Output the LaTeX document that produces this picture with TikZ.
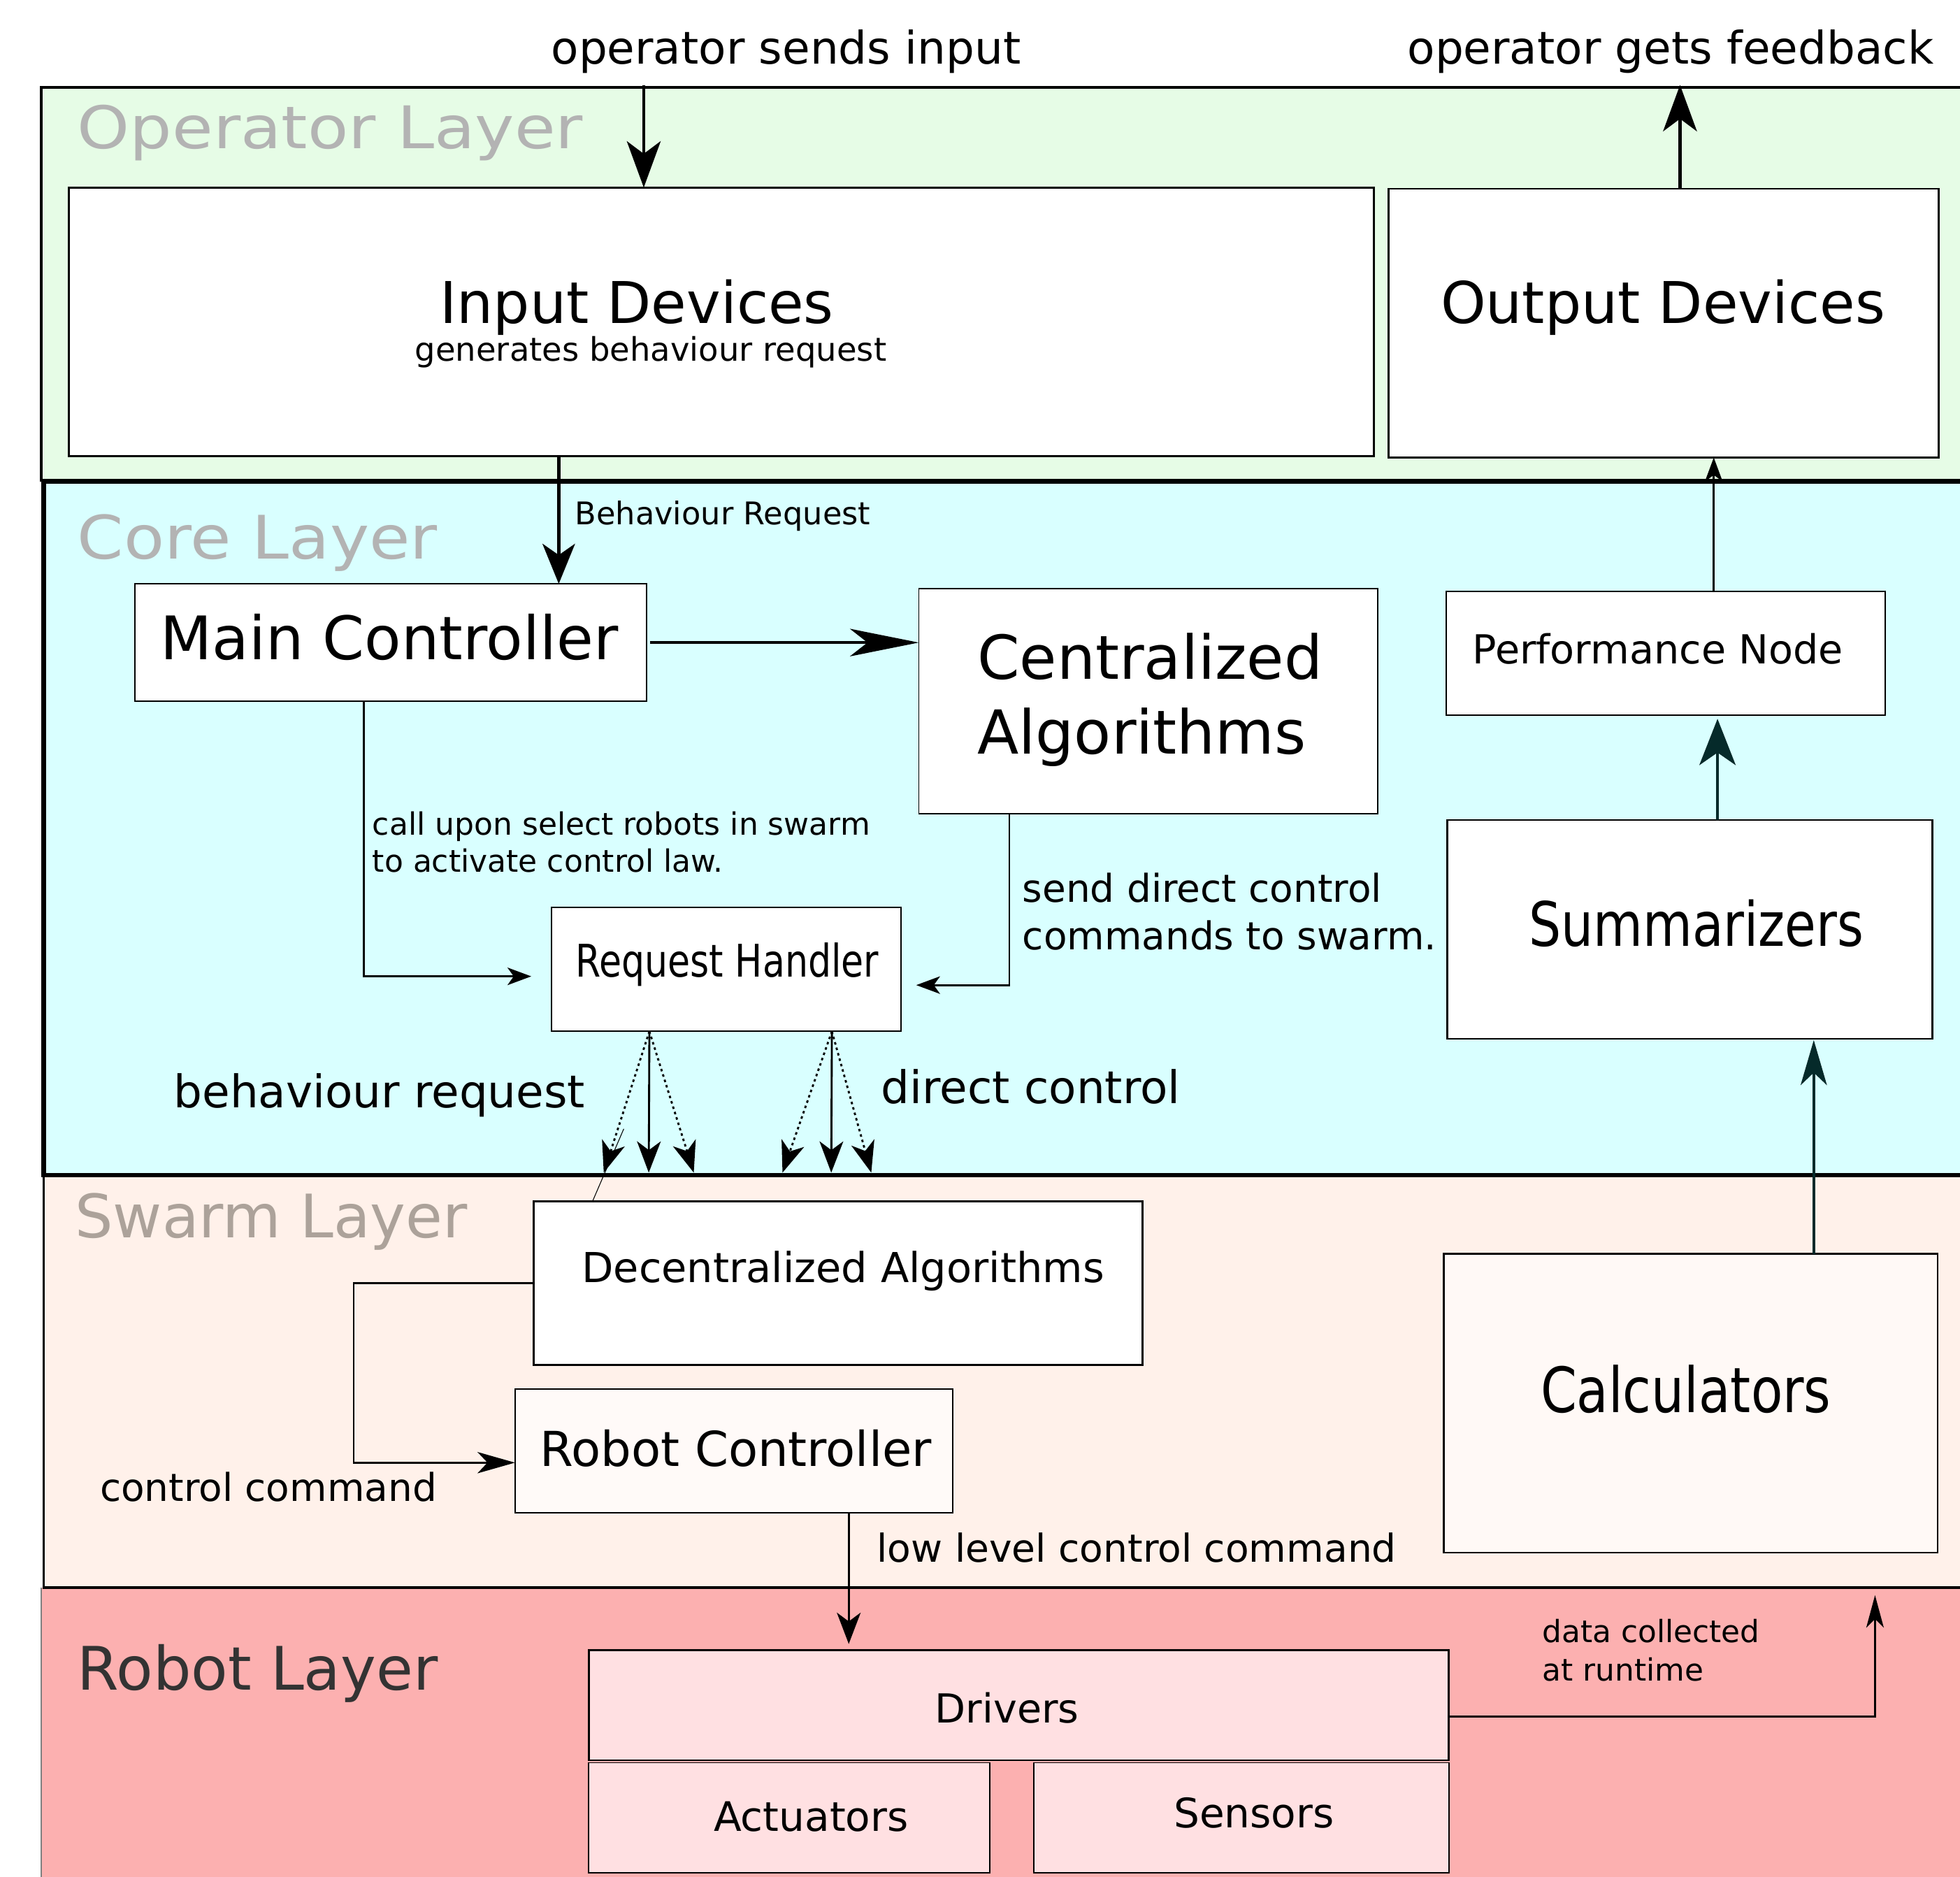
\documentclass[tikz,border=0pt]{standalone}
\usepackage{fontspec}
\setmainfont{DejaVu Sans}
\usepackage{graphicx}
\usetikzlibrary{arrows.meta,calc}
\definecolor{opfill}{HTML}{E6FCE6}
\definecolor{corefill}{HTML}{D9FFFF}
\definecolor{swfill}{HTML}{FFF1EA}
\definecolor{robfill}{HTML}{FCB0B0}
\definecolor{drvfill}{HTML}{FFE0E2}
\definecolor{rcfill}{HTML}{FFFAF8}
\definecolor{calcfill}{HTML}{FFF9F6}
\definecolor{labgray}{HTML}{B3B3B3}
\definecolor{swgray}{HTML}{ACA29A}
\definecolor{robgray}{HTML}{333333}
\definecolor{darkteal}{HTML}{052A2A}
\newcommand\fsz[2]{\fontsize{#1}{#2}\selectfont}
\begin{document}
\begin{tikzpicture}[x=1pt,y=-1pt,
  box/.style={draw=black, fill=white, line width=1.1pt, inner sep=0pt, outer sep=0pt},
  thickbox/.style={box, line width=1.8pt},
  txt/.style={inner sep=0pt, outer sep=0pt, anchor=base west, align=left, text=black},
  conn/.style={draw=black, line width=1.5pt},
  tipbig/.style={-{Stealth[length=37pt,width=27pt,inset=10pt]}},
  tipbr/.style={-{Stealth[length=32pt,width=26pt,inset=9pt]}},
  tiplong/.style={-{Stealth[length=55pt,width=22pt,inset=14pt]}},
  tipfan/.style={-{Stealth[length=25pt,width=19pt,inset=7pt]}},
  tipsmall/.style={-{Stealth[length=19pt,width=14pt,inset=5pt]}},
  tipcc/.style={-{Stealth[length=30pt,width=17pt,inset=8pt]}},
  fandot/.style={conn, line width=1.6pt, dash pattern=on 2pt off 2.5pt, tipfan},
  fansolid/.style={conn, line width=1.6pt, tipfan},
]
\useasboundingbox (0,0) rectangle (1568,1501);
\clip (0,0) rectangle (1568,1501);

% ---------- layers ----------
\filldraw[fill=opfill, draw=black, line width=2.2pt] (33,70) rectangle (1590,384);
\fill[robfill] (33,1270) rectangle (1590,1520);
\draw[gray, line width=1pt] (33,1270) -- (33,1520);
\filldraw[fill=swfill, draw=black, line width=2pt] (35,940) rectangle (1590,1270);
\filldraw[fill=corefill, draw=black, line width=3.5pt] (35,385) rectangle (1590,940);

\node[txt, text=labgray] (lop) at (62,119) {\fsz{47}{56}\scalebox{1.135}[1]{Operator Layer}};
\node[txt, text=labgray] (lcore) at (62,447) {\fsz{48}{56}\scalebox{1.107}[1]{Core Layer}};
\node[txt, text=swgray] (lsw) at (60,990) {\fsz{48}{56}Swarm Layer};
\node[txt, text=robgray] (lrob) at (62,1352) {\fsz{48}{56}Robot Layer};

% ---------- boxes ----------
\node[thickbox, minimum width=1044pt, minimum height=215pt] (inp) at (577,257.5) {};
\node[thickbox, line width=1.5pt, minimum width=440pt, minimum height=215pt] (out) at (1331,258.5) {};
\node[box, minimum width=409pt, minimum height=94pt] (mc) at (312.5,514) {};
\node[box, line width=0.9pt, minimum width=367pt, minimum height=180pt] (ca) at (918.5,561) {};
\node[box, minimum width=351pt, minimum height=99pt] (pn) at (1332.5,522.5) {};
\node[box, minimum width=280pt, minimum height=99pt] (rh) at (581,775.5) {};
\node[thickbox, line width=1.5pt, minimum width=388pt, minimum height=175pt] (sum) at (1352,743.5) {};
\node[thickbox, line width=1.5pt, minimum width=487pt, minimum height=131pt] (dec) at (670.5,1026.5) {};
\node[box, fill=rcfill, minimum width=350pt, minimum height=99pt] (rc) at (587,1160.5) {};
\node[thickbox, line width=1.5pt, fill=calcfill, minimum width=395pt, minimum height=239pt] (calc) at (1352.5,1122.5) {};
\node[thickbox, line width=1.5pt, fill=drvfill, minimum width=688pt, minimum height=88pt] (drv) at (815,1364) {};
\node[box, fill=drvfill, minimum width=321pt, minimum height=88pt] (act) at (631.5,1454) {};
\node[box, fill=drvfill, minimum width=332pt, minimum height=88pt] (sen) at (993,1454) {};

% ---------- box texts ----------
\node[txt] (tinp) at (352,258.5) {\fsz{46}{55}Input Devices};
\node[txt] (tinp2) at (332,289) {\fsz{26}{31}generates behaviour request};
\node[txt] (tout) at (1152.5,258.5) {\fsz{46}{55}Output Devices};
\node[txt] (tmc) at (128.5,527.5) {\fsz{48}{58}Main Controller};
\node[txt, font={\fsz{48.5}{60}}] (tca) at (782,603.3) {Centralized\\Algorithms};
\node[txt] (tpn) at (1178,531) {\fsz{32}{38}Performance Node};
\node[txt] (tsum) at (1223,756.7) {\fsz{49}{58}\scalebox{0.83}[1]{Summarizers}};
\node[txt] (trh) at (460.5,781.2) {\fsz{36}{43}\scalebox{0.81}[1]{Request Handler}};
\node[txt] (tdec) at (465.5,1026) {\fsz{33}{40}Decentralized Algorithms};
\node[txt] (trc) at (432,1173) {\fsz{38.5}{46}Robot Controller};
\node[txt] (tcalc) at (1232.5,1130) {\fsz{50}{60}\scalebox{0.83}[1]{Calculators}};
\node[txt] (tdrv) at (748,1378) {\fsz{32}{38}Drivers};
\node[txt] (tact) at (571,1465) {\fsz{32.5}{38}Actuators};
\node[txt] (tsen) at (939,1462) {\fsz{32.5}{38}Sensors};

% ---------- free labels ----------
\node[txt] (lin) at (441,51) {\fsz{36}{43}operator sends input};
\node[txt] (lfb) at (1126,51) {\fsz{36}{43}operator gets feedback};
\node[txt] (lbr) at (460,419.5) {\fsz{25}{30}Behaviour Request};
\node[txt, font={\fsz{24.6}{29.5}}] (lcu) at (298,697.5) {call upon select robots in swarm\\to activate control law.};
\node[txt, font={\fsz{30.7}{38}}] (lsd) at (818,759.5) {send direct control\\commands to swarm.};
\node[txt] (lbeh) at (139,886) {\fsz{36}{43}behaviour request};
\node[txt] (ldc) at (705,882.5) {\fsz{36}{43}direct control};
\node[txt] (lcc) at (80,1201) {\fsz{30.7}{37}control command};
\node[txt] (lll) at (701.5,1249.5) {\fsz{30.8}{37}low level control command};
\node[txt, font={\fsz{24.5}{30.5}}] (ldat) at (1234,1344.5) {data collected\\at runtime};

% ---------- connectors ----------
\coordinate (opin) at (515,68);
\coordinate (opfb) at (1344,68);
\coordinate (brx) at (447,0);
\coordinate (cux) at (291,0);
\coordinate (sdx) at (807.5,0);
\coordinate (pnx) at (1371,0);
\coordinate (spx) at (1374,0);
\coordinate (csx) at (1451,0);
\coordinate (llx) at (679,0);
\coordinate (dat) at (1500,1276);
\coordinate (fa) at (519.5,0);
\coordinate (fb) at (665.5,0);
\coordinate (f1) at (483,938);
\coordinate (f2) at (519,938);
\coordinate (f3) at (555,938);
\coordinate (f4) at (626,938);
\coordinate (f5) at (665,938);
\coordinate (f6) at (697,938);
\coordinate (stray) at (499,903);

\draw[conn, line width=2.5pt, tipbig] (opin) -- (inp.north -| opin);
\draw[conn, line width=2.5pt, tipbig] (out.north -| opfb) -- (opfb);
\draw[conn, line width=2.5pt, tipbr] (inp.south -| brx) -- (mc.north -| brx);
\draw[conn, line width=2.2pt, tiplong, shorten <=3pt] (mc.east) -- (mc.east -| ca.west);
\draw[conn, tipsmall, shorten >=16pt] (mc.south -| cux) |- ([yshift=-5.5pt]rh.west);
\draw[conn, tipsmall, shorten >=12pt] (ca.south -| sdx) |- ([yshift=-12.5pt]rh.east);
\draw[conn, tipsmall] (pn.north -| pnx) -- (out.south -| pnx);
\draw[conn, draw=darkteal, line width=2.2pt, -{Stealth[length=37pt,width=29pt,inset=10pt]}, shorten >=3pt] (sum.north -| spx) -- (pn.south -| spx);
\draw[conn, draw=darkteal, line width=2pt, -{Stealth[length=36pt,width=21pt,inset=10pt]}, shorten >=1pt] (calc.north -| csx) -- (sum.south -| csx);

\draw[fandot] (rh.south -| fa) -- (f1);
\draw[fansolid] (rh.south -| fa) -- (f2);
\draw[fandot] (rh.south -| fa) -- (f3);
\draw[fandot] (rh.south -| fb) -- (f4);
\draw[fansolid] (rh.south -| fb) -- (f5);
\draw[fandot] (rh.south -| fb) -- (f6);
\draw[line width=0.6pt] (stray) -- ($(dec.north west)+(47,0)$);

\draw[conn, tipcc] (dec.west) -- ++(-144,0) |- ([yshift=-9.5pt]rc.west);
\draw[conn, tipfan, shorten >=5pt] (rc.south -| llx) -- (drv.north -| llx);
\draw[conn, -{Stealth[length=26pt,width=14pt,inset=7pt]}] ([yshift=-9pt]drv.east) -| (dat);
\end{tikzpicture}
\end{document}
